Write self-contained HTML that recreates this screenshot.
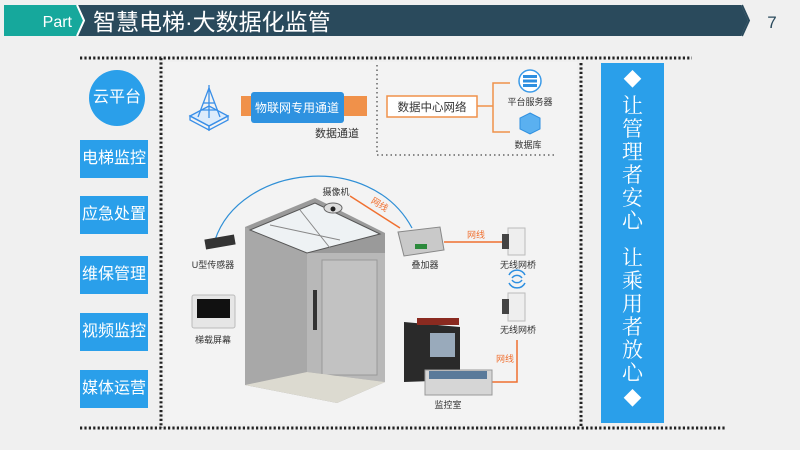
<!DOCTYPE html>
<html><head><meta charset="utf-8"><style>
body{margin:0;width:800px;height:450px;background:#f0f0f0;overflow:hidden;font-family:"Liberation Sans","Noto Sans CJK SC",sans-serif;position:relative}
.a{position:absolute}
.btn{position:absolute;left:80px;width:68px;height:38px;background:#2a9fea;color:#fff;font-size:16px;line-height:38px;text-align:center}
</style></head><body>
<svg class="a" style="left:0;top:0" width="800" height="450" xmlns="http://www.w3.org/2000/svg" font-family="Liberation Sans, Noto Sans CJK SC, sans-serif">
<polygon points="4,5 77,5 84,20.5 77,36 4,36" fill="#16a89c"/>
<polygon points="78,5 741,5 748,20.5 741,36 78,36 85,20.5" fill="#2a4a5c"/>
<polyline points="77,5 84,20.5 77,36" fill="none" stroke="#fff" stroke-width="2"/>
<polyline points="742,5 749,20.5 742,36" fill="none" stroke="#2a4a5c" stroke-width="2"/>
<text x="72" y="27" fill="#fff" font-size="16" text-anchor="end">Part</text>
<text x="93" y="30" fill="#fff" font-size="23">智慧电梯·大数据化监管</text>
<text x="772" y="28" fill="#2a4a5c" font-size="17" text-anchor="middle">7</text>
<g stroke="#222" stroke-width="3" stroke-dasharray="2.2,2.2" fill="none">
<line x1="80" y1="58" x2="692" y2="58"/>
<line x1="80" y1="428" x2="725" y2="428"/>
<line x1="161" y1="58" x2="161" y2="428"/>
<line x1="581" y1="63" x2="581" y2="428"/>
</g>
<rect x="165" y="62" width="412" height="362" fill="#f3f3f3"/>
<g stroke="#3a8fe8" stroke-width="1.3" fill="none">
<polygon points="190,116 209,106 228,116 209,126" fill="#dcebfb"/>
<polygon points="190,116 209,126 209,130 190,120"/>
<polygon points="228,116 209,126 209,130 228,120"/>
<polyline points="198,117 209,88 220,117"/><line x1="203" y1="103" x2="215" y2="103"/><line x1="201" y1="110" x2="218" y2="110"/>
<line x1="209" y1="85" x2="209" y2="118"/>
</g>
<rect x="241" y="96" width="126" height="20" fill="#f0914a"/>
<rect x="251" y="92" width="93" height="31" rx="3" fill="#2e92e0"/>
<text x="297" y="112" fill="#fff" font-size="12" text-anchor="middle">物联网专用通道</text>
<text x="337" y="137" fill="#333" font-size="11" text-anchor="middle">数据通道</text>
<line x1="377" y1="65" x2="377" y2="155" stroke="#888" stroke-width="2" stroke-dasharray="1.5,3"/>
<line x1="377" y1="155" x2="555" y2="155" stroke="#888" stroke-width="2" stroke-dasharray="1.5,3"/>
<rect x="387" y="96" width="90" height="21" fill="#fff" stroke="#f0914a" stroke-width="1.5"/>
<text x="432" y="111" fill="#333" font-size="11.5" text-anchor="middle">数据中心网络</text>
<polyline points="477,106 493,106" stroke="#f0914a" stroke-width="1.5"/>
<polyline points="510,83 493,83 493,132 510,132" fill="none" stroke="#f0914a" stroke-width="1.5"/>
<circle cx="530" cy="81" r="11" fill="#fff" stroke="#3a9ae8" stroke-width="1.5"/>
<rect x="523" y="75" width="14" height="3" fill="#2e8fe0"/><rect x="523" y="79.5" width="14" height="3" fill="#2e8fe0"/><rect x="523" y="84" width="14" height="3" fill="#2e8fe0"/>
<text x="530" y="105" fill="#333" font-size="9" text-anchor="middle">平台服务器</text>
<polygon points="530,113 540,118 540,129 530,134 520,129 520,118" fill="#5ab0f0" stroke="#2e8fe0"/>
<text x="528" y="148" fill="#333" font-size="9" text-anchor="middle">数据库</text>
<path d="M215,240 C240,165 370,150 412,228" fill="none" stroke="#2f8fd6" stroke-width="1.2"/>
<polygon points="245,227 315,198 385,233 385,382 337,403 245,385" fill="#9a9a9a"/>
<polygon points="307,253 385,253 385,382 307,372" fill="#b8b8b8"/>
<polygon points="245,227 307,253 307,372 245,385" fill="#a8a8a8"/>
<polygon points="250,230 315,203 380,234 307,253" fill="#eef2f4" stroke="#555" stroke-width="1"/>
<line x1="270" y1="225" x2="340" y2="240" stroke="#888"/><line x1="300" y1="210" x2="330" y2="248" stroke="#888"/>
<rect x="322" y="260" width="55" height="115" fill="#c2c2c2" stroke="#999"/>
<rect x="313" y="290" width="4" height="40" fill="#333"/>
<polygon points="245,385 307,372 385,382 337,403" fill="#dcdad0"/>
<ellipse cx="333" cy="208" rx="9" ry="5" fill="#ddd" stroke="#666"/><circle cx="333" cy="209" r="2.5" fill="#222"/>
<text x="336" y="195" fill="#333" font-size="9" text-anchor="middle">摄像机</text>
<line x1="350" y1="196" x2="400" y2="228" stroke="#f07030" stroke-width="1.5"/>
<text x="378" y="207" fill="#f07030" font-size="9" text-anchor="middle" transform="rotate(32 378 207)">网线</text>
<rect x="205" y="237" width="30" height="10" fill="#333" transform="rotate(-10 220 242)"/>
<text x="213" y="268" fill="#333" font-size="9" text-anchor="middle">U型传感器</text>
<rect x="192" y="295" width="43" height="33" rx="2" fill="#e6e6e6" stroke="#bbb"/>
<rect x="197" y="299" width="33" height="19" fill="#111"/>
<text x="213" y="343" fill="#333" font-size="9" text-anchor="middle">梯载屏幕</text>
<polygon points="398,232 440,227 444,250 404,256" fill="#c9c9c9" stroke="#888"/>
<rect x="415" y="244" width="12" height="5" fill="#2c8a3c"/>
<text x="425" y="268" fill="#333" font-size="9" text-anchor="middle">叠加器</text>
<line x1="444" y1="242" x2="503" y2="242" stroke="#f07030" stroke-width="1.5"/>
<text x="476" y="238" fill="#f07030" font-size="9" text-anchor="middle">网线</text>
<rect x="508" y="228" width="17" height="27" fill="#eee" stroke="#bbb"/><rect x="502" y="234" width="7" height="15" fill="#444"/>
<text x="518" y="268" fill="#333" font-size="9" text-anchor="middle">无线网桥</text>
<g fill="none" stroke="#2e8fe0" stroke-width="1.5"><path d="M512,280 a6,6 0 0 0 10,0"/><path d="M509,283 a9,9 0 0 0 16,0"/><path d="M512,278 a6,6 0 0 1 10,0"/><path d="M509,275 a9,9 0 0 1 16,0"/></g>
<rect x="508" y="293" width="17" height="28" fill="#eee" stroke="#bbb"/><rect x="502" y="299" width="7" height="15" fill="#444"/>
<text x="518" y="333" fill="#333" font-size="9" text-anchor="middle">无线网桥</text>
<polyline points="517,340 517,382 492,382" fill="none" stroke="#f07030" stroke-width="1.5"/>
<text x="505" y="362" fill="#f07030" font-size="9" text-anchor="middle">网线</text>
<polygon points="404,322 460,327 460,380 404,382" fill="#2a2a2a"/>
<rect x="417" y="318" width="42" height="7" fill="#8a2a20"/>
<rect x="430" y="333" width="25" height="24" fill="#9ab"/>
<rect x="425" y="370" width="67" height="25" fill="#d6d6d6" stroke="#999"/>
<rect x="429" y="371" width="58" height="8" fill="#5a7a9a"/>
<text x="448" y="408" fill="#333" font-size="9" text-anchor="middle">监控室</text>
</svg>
<div class="a" style="left:89px;top:70px;width:56px;height:56px;border-radius:50%;background:#2a9fea;color:#fff;font-size:16px;line-height:56px;text-align:center">云平台</div>
<div class="btn" style="top:140px">电梯监控</div>
<div class="btn" style="top:196px">应急处置</div>
<div class="btn" style="top:256px">维保管理</div>
<div class="btn" style="top:313px">视频监控</div>
<div class="btn" style="top:370px">媒体运营</div>
<div class="a" style="left:601px;top:63px;width:63px;height:360px;background:#2a9fea;color:#fff;text-align:center;font-family:'Noto Serif CJK SC','Liberation Serif',serif;font-size:21px;line-height:23px">
<div style="margin-top:5px;font-size:18px">◆</div>
<div style="margin-top:3px">让<br>管<br>理<br>者<br>安<br>心</div>
<div style="margin-top:14px">让<br>乘<br>用<br>者<br>放<br>心</div>
<div style="margin-top:3px;font-size:18px">◆</div>
</div>
</body></html>
